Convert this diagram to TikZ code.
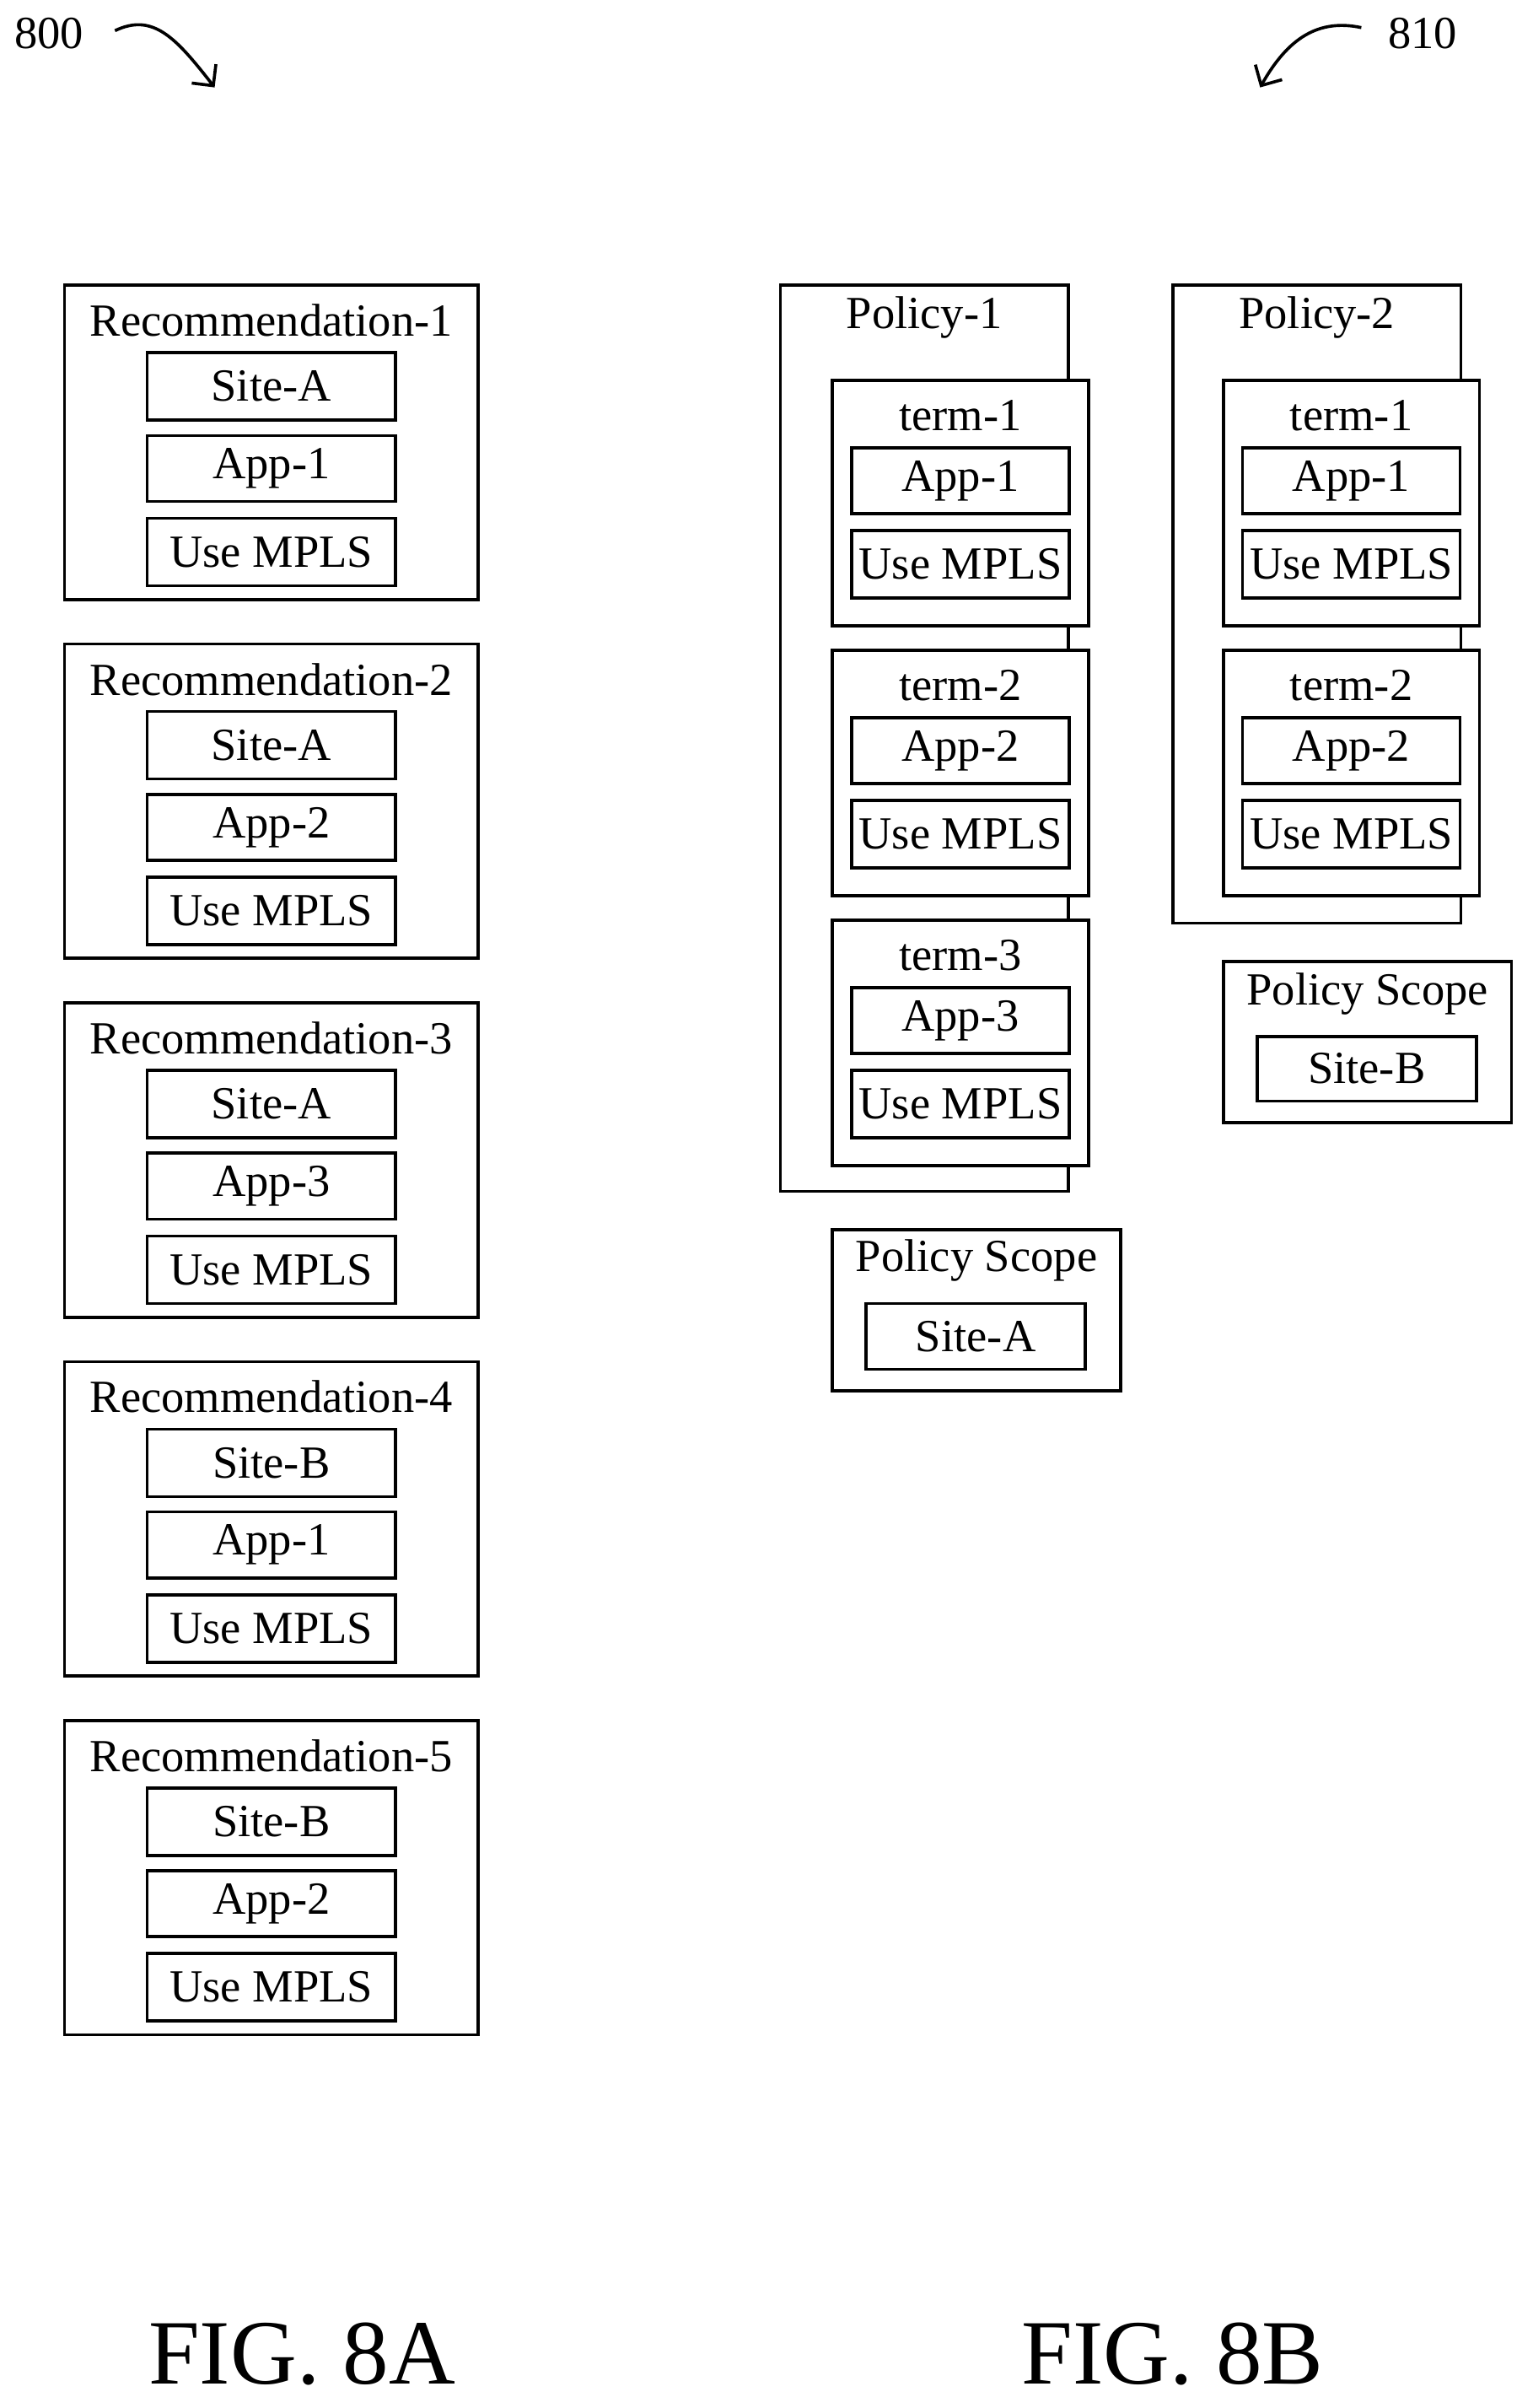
\documentclass[tikz,border=0pt]{standalone}
\usepackage{fontspec}
\setmainfont{Liberation Serif}
\usetikzlibrary{arrows.meta}
\tikzset{every picture/.style={line width=1pt}}
\tikzset{
  box/.style={draw,fill=white,inner sep=0pt},
  lbl/.style={inner sep=0.75pt,font=\fontsize{15}{18}\selectfont},
}
\begin{document}
\begin{tikzpicture}[x=0.5pt,y=0.5pt,yscale=-1]
\useasboundingbox (0,0) rectangle (1000,1570.4);

% Reference numerals
\node[lbl] (n800) at (32,22) {800};
\node[lbl] (n810) at (928,22) {810};
\draw[-{Straight Barb[length=5pt]}] (75,20) .. controls (100,8) and (115,25) .. (140,57);
\draw[-{Straight Barb[length=5pt]}] (888,18) .. controls (860,12) and (840,25) .. (822,57);

% FIG. 8A: recommendations
\foreach \k/\s/\a in {1/A/1,2/A/2,3/A/3,4/B/1,5/B/2}{
  \pgfmathsetmacro{\T}{186+234*(\k-1)}
  \node[box,minimum width=135pt,minimum height=102.5pt] (rec\k) at (177,\T+102.5) {};
  \node[lbl] (rec\k title) at (177,\T+23) {Recommendation-\k};
  \node[box,lbl,minimum width=81pt,minimum height=22pt] (rec\k site) at (177,\T+66) {Site-\s};
  \node[box,lbl,minimum width=81pt,minimum height=21.5pt] (rec\k app) at (177,\T+119.5) {App-\a};
  \node[box,lbl,minimum width=81pt,minimum height=22pt] (rec\k use) at (177,\T+174) {Use MPLS};
}

% FIG. 8B: policies
\node[box,minimum width=94pt,minimum height=295.5pt] (pol1) at (603,481.5) {};
\node[lbl] (pol1 title) at (603,207) {Policy-1};
\node[box,minimum width=94pt,minimum height=208pt] (pol2) at (859,394) {};
\node[lbl] (pol2 title) at (859,207) {Policy-2};

\foreach \p/\x/\n in {1/626.5/3,2/881.5/2}{
  \foreach \t in {1,...,\n}{
    \pgfmathsetmacro{\tt}{248+176*(\t-1)}
    \node[box,minimum width=83.5pt,minimum height=80pt] (pol\p term\t) at (\x,\tt+80) {};
    \node[lbl] (pol\p term\t title) at (\x,\tt+23) {term-\t};
    \node[box,lbl,minimum width=71pt,minimum height=21.5pt] (pol\p term\t app) at (\x,\tt+65.5) {App-\t};
    \node[box,lbl,minimum width=71pt,minimum height=22pt] (pol\p term\t use) at (\x,\tt+120) {Use MPLS};
  }
}

% Policy scopes
\node[box,minimum width=94pt,minimum height=52.5pt] (scopeA) at (637,854.5) {};
\node[lbl] (scopeA title) at (637,822) {Policy Scope};
\node[box,lbl,minimum width=71.5pt,minimum height=21.5pt] (scopeA site) at (636.5,871.5) {Site-A};
\node[box,minimum width=94pt,minimum height=52.5pt] (scopeB) at (892,679.5) {};
\node[lbl] (scopeB title) at (892,648) {Policy Scope};
\node[box,lbl,minimum width=71.5pt,minimum height=21pt] (scopeB site) at (891.5,697) {Site-B};

% Figure labels
\node[inner sep=0pt,font=\fontsize{30}{36}\selectfont] (fig8a) at (197,1535) {FIG. 8A};
\node[inner sep=0pt,font=\fontsize{30}{36}\selectfont] (fig8b) at (765,1535) {FIG. 8B};
\end{tikzpicture}
\end{document}
